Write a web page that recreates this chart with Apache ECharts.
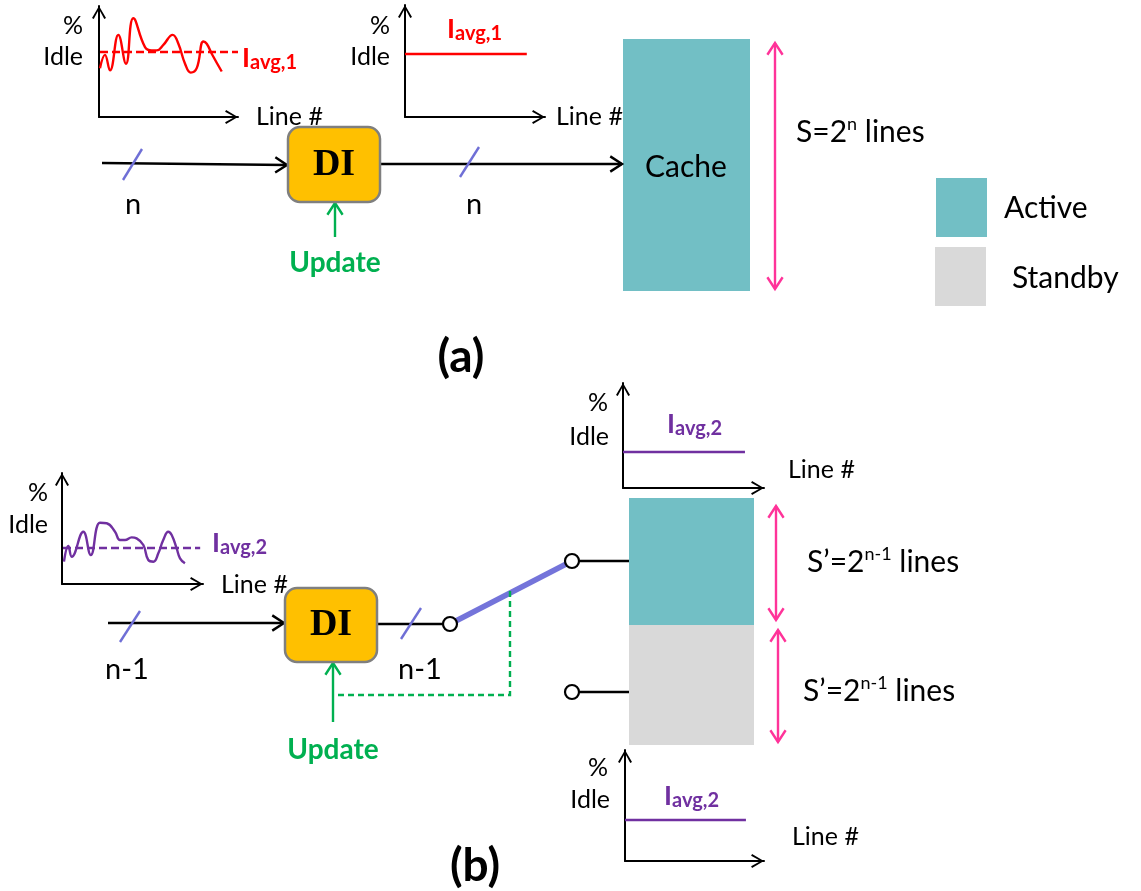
<!DOCTYPE html>
<html>
<head>
<meta charset="utf-8">
<script src="https://cdn.jsdelivr.net/npm/echarts@6/dist/echarts.min.js"></script>
<style>
  html, body { margin: 0; padding: 0; background: #fff; }
  #chart { width: 1141px; height: 891px; }
</style>
</head>
<body>
<div id="chart"></div>
<script>
// ---------- idle profiles: x = cache line index (0-100), y = % idle (0-100) ----------
const idleFullCache = [[0.7,44],[4.3,56],[7.9,42],[13.9,74],[19.4,48],[24.7,89],[33.1,63],[37.9,60],[41.5,60],[46.3,65],[53.0,74],[57.1,66],[61.9,48],[66.0,40],[70.3,44],[75.1,68],[77.5,66],[81.1,57],[88.3,41]];
const avgIdleFull = 58.6;       // I_avg,1 over the whole trace
const avgIdleCache = 56.3;      // I_avg,1 seen by the cache after DI
const idleHalfCache = [[1.4,20.1],[4.5,34.2],[6.9,24.6],[15.1,47.1],[20.4,26.1],[26.9,55.2],[31.7,54.7],[37.6,47.1],[41.1,39.6],[44.7,39.6],[49.4,42.0],[52.9,41.1],[57.7,35.1],[61.2,21.6],[64.8,20.1],[68.3,27.6],[71.8,39.6],[75.4,47.1],[77.8,44.1],[81.3,32.1],[83.7,23.1],[87.2,18.6]];
const avgIdleHalf = 32.4;       // I_avg,2 over the trace
const avgIdleActive = 34.3;     // I_avg,2 in the active half
const avgIdleStandby = 36.9;    // I_avg,2 in the standby half
const avgSpan = [[0.7, 100], [0, 87], [0.7, 98], [0, 86.5], [0, 87]];

// ---------- block diagram geometry (page units, y grows downward) ----------
// [x0, y0, x1, y1, kind]  kind 0 = active, 1 = standby
const blocks = [
  [623, 39, 750, 291, 0],
  [936, 178, 987, 237, 0],
  [935, 247, 986, 306, 1],
  [629, 498, 754, 625, 0],
  [629, 625, 754, 745, 1]
];
// DI units [x0, y0, x1, y1]
const diUnits = [[288, 127, 380, 202], [285, 588, 377, 662]];
// [style, arrowheads, x1, y1, x2, y2, ...]
const wires = [
  ['black', 1, 102, 163, 287, 165],
  ['black', 1, 380, 164, 622, 164],
  ['green', 1, 335, 237, 335, 203],
  ['pink', 2, 775, 43, 775, 289],
  ['slash', 0, 123, 180, 142, 149],
  ['slash', 0, 460, 177, 479, 147],
  ['black', 1, 108, 623, 284, 623],
  ['black', 0, 377, 624, 443, 624],
  ['switch', 0, 450, 624, 572, 561],
  ['black', 0, 579, 561, 629, 561],
  ['black', 0, 579, 692, 629, 692],
  ['greenDash', 0, 510, 591, 510, 695, 333, 695],
  ['green', 1, 333, 722, 333, 663],
  ['pink', 2, 776, 506, 776, 620],
  ['pink', 2, 778, 630, 778, 742],
  ['slash', 0, 120, 642, 140, 611],
  ['slash', 0, 401, 639, 421, 608]
];
// switch contacts
const contacts = [[450, 624], [572, 561], [572, 692]];
// [x, y, text, style, align]
const labels = [
  [83, 26, '%', 'axis', 'right'],
  [83, 57, 'Idle', 'axis', 'right'],
  [256, 117, 'Line #', 'axis', 'left'],
  [242, 58, '{i|I}{s|avg,1}', 'avgRed', 'left'],
  [390, 26, '%', 'axis', 'right'],
  [390, 57, 'Idle', 'axis', 'right'],
  [556, 117, 'Line #', 'axis', 'left'],
  [447, 29, '{i|I}{s|avg,1}', 'avgRed', 'left'],
  [334, 165, 'DI', 'di', 'center'],
  [133, 205, 'n', 'tag', 'center'],
  [474, 205, 'n', 'tag', 'center'],
  [335, 263, 'Update', 'update', 'center'],
  [686, 167, 'Cache', 'big', 'center'],
  [796, 132, '{m|S=2}{p|n}{m| lines}', 'sup', 'left'],
  [1004, 208, 'Active', 'big', 'left'],
  [1012, 278, 'Standby', 'big', 'left'],
  [461, 357, '(a)', 'panel', 'center'],
  [608, 403, '%', 'axis', 'right'],
  [609, 437, 'Idle', 'axis', 'right'],
  [788, 470, 'Line #', 'axis', 'left'],
  [667, 424, '{i|I}{s|avg,2}', 'avgPurple', 'left'],
  [48, 493, '%', 'axis', 'right'],
  [48, 525, 'Idle', 'axis', 'right'],
  [221, 585, 'Line #', 'axis', 'left'],
  [212, 543, '{i|I}{s|avg,2}', 'avgPurple', 'left'],
  [331, 625, 'DI', 'di', 'center'],
  [127, 670, 'n-1', 'tag', 'center'],
  [420, 670, 'n-1', 'tag', 'center'],
  [333, 750, 'Update', 'update', 'center'],
  [807, 562, '{m|S\u2019=2}{p|n-1}{m| lines}', 'sup', 'left'],
  [803, 691, '{m|S\u2019=2}{p|n-1}{m| lines}', 'sup', 'left'],
  [608, 768, '%', 'axis', 'right'],
  [610, 800, 'Idle', 'axis', 'right'],
  [792, 837, 'Line #', 'axis', 'left'],
  [664, 796, '{i|I}{s|avg,2}', 'avgPurple', 'left'],
  [475, 866, '(b)', 'panel', 'center']
];

// ---------- styling ----------
const F = 'Lato, "Noto Sans", sans-serif';
const RED = '#FF0000', PURPLE = '#7030A0', GREEN = '#00B050', PINK = '#FF3399';
const TEAL = '#72BFC5', GREY = '#D9D9D9', ORANGE = '#FFC000';
const blockColors = [TEAL, GREY];
const wireStyles = {
  black: { color: '#000', width: 2.4 },
  green: { color: GREEN, width: 2.4 },
  pink: { color: PINK, width: 2.4 },
  slash: { color: '#6F6FD6', width: 2.4 },
  switch: { color: '#7474DA', width: 5.5 },
  greenDash: { color: GREEN, width: 2.4, dash: [6, 4] }
};
function avgRich(color) {
  return {
    i: { fontSize: 27, fontWeight: 'bold', fontFamily: F, fill: color, lineHeight: 30 },
    s: { fontSize: 20, fontWeight: 'bold', fontFamily: F, fill: color, lineHeight: 20, verticalAlign: 'bottom' }
  };
}
const textStyles = {
  axis: { fontSize: 25, fontFamily: F, fill: '#000' },
  tag: { fontSize: 29, fontFamily: F, fill: '#000' },
  big: { fontSize: 30, fontFamily: F, fill: '#000' },
  update: { fontSize: 28, fontFamily: F, fontWeight: 'bold', fill: GREEN },
  panel: { fontSize: 46, fontFamily: F, fontWeight: 'bold', fill: '#000' },
  di: { fontSize: 38, fontFamily: '"Liberation Serif", "DejaVu Serif", serif', fontWeight: 'bold', fill: '#000' },
  avgRed: { fontSize: 27, fontFamily: F, fill: RED, rich: avgRich(RED) },
  avgPurple: { fontSize: 27, fontFamily: F, fill: PURPLE, rich: avgRich(PURPLE) },
  sup: {
    fontSize: 30, fontFamily: F, fill: '#000',
    rich: {
      m: { fontSize: 30, fontFamily: F, fill: '#000', lineHeight: 34 },
      p: { fontSize: 18, fontFamily: F, fill: '#000', lineHeight: 20, verticalAlign: 'top' }
    }
  }
};

// small idle-profile panels: [left, top, width, height]
const miniFrames = [
  [99, 6, 139, 111],
  [405, 5, 140, 112],
  [62, 473, 141, 111],
  [623, 383, 141, 105],
  [625, 750, 139, 111]
];
const ARROW = 'path://M6.5,0 L13,11 L11.4,11.9 L6.5,3 L1.6,11.9 L0,11 Z';

function miniAxis(gridIndex, pos) {
  return {
    gridIndex, type: 'value', min: 0, max: 100, position: pos,
    axisLine: {
      show: true, onZero: false,
      symbol: ['none', ARROW], symbolSize: [14, 13], symbolOffset: [0, -6.5],
      lineStyle: { color: '#000', width: 2 }
    },
    axisTick: { show: false }, axisLabel: { show: false }, splitLine: { show: false }
  };
}

// ---------- renderers for the diagram layer ----------
function chevron(tip, from, st) {
  const dx = tip[0] - from[0], dy = tip[1] - from[1];
  const d = Math.hypot(dx, dy) || 1;
  const bx = -dx / d, by = -dy / d;
  const len = 14, ang = 33 * Math.PI / 180;
  const c = Math.cos(ang), s = Math.sin(ang);
  const a1 = [tip[0] + len * (bx * c - by * s), tip[1] + len * (bx * s + by * c)];
  const a2 = [tip[0] + len * (bx * c + by * s), tip[1] + len * (-bx * s + by * c)];
  return { type: 'polyline', shape: { points: [a1, tip, a2] },
    style: { stroke: st.color, lineWidth: st.width, fill: null, lineJoin: 'miter' } };
}
function renderWire(params, api) {
  const w = wires[params.dataIndex];
  const st = wireStyles[w[0]];
  const pts = [];
  for (let k = 2; k < w.length; k += 2) pts.push(api.coord([w[k], w[k + 1]]));
  const children = [{ type: 'polyline', shape: { points: pts },
    style: { stroke: st.color, lineWidth: st.width, lineDash: st.dash || null, fill: null } }];
  if (w[1] >= 1) children.push(chevron(pts[pts.length - 1], pts[pts.length - 2], st));
  if (w[1] >= 2) children.push(chevron(pts[0], pts[1], st));
  return { type: 'group', children };
}
function rectOf(api) {
  const p0 = api.coord([api.value(0), api.value(1)]);
  const p1 = api.coord([api.value(2), api.value(3)]);
  return { x: Math.min(p0[0], p1[0]), y: Math.min(p0[1], p1[1]),
    width: Math.abs(p1[0] - p0[0]), height: Math.abs(p1[1] - p0[1]) };
}
function renderBlock(params, api) {
  return { type: 'rect', shape: rectOf(api), style: { fill: blockColors[api.value(4)] } };
}
function renderDI(params, api) {
  const r = rectOf(api);
  r.r = 12;
  return { type: 'rect', shape: r, style: { fill: ORANGE, stroke: '#7F7F7F', lineWidth: 2.5 } };
}
function renderContact(params, api) {
  const p = api.coord([api.value(0), api.value(1)]);
  return { type: 'circle', shape: { cx: p[0], cy: p[1], r: 7 },
    style: { fill: '#fff', stroke: '#000', lineWidth: 2.2 } };
}
function renderLabel(params, api) {
  const l = labels[params.dataIndex];
  const p = api.coord([l[0], l[1]]);
  const style = JSON.parse(JSON.stringify(textStyles[l[3]]));
  style.text = l[2];
  style.align = l[4];
  style.verticalAlign = 'middle';
  return { type: 'text', x: p[0], y: p[1], style };
}

// ---------- option ----------
const grids = [{ left: 0, top: 0, width: 1141, height: 891 }]
  .concat(miniFrames.map(f => ({ left: f[0], top: f[1], width: f[2], height: f[3] })));
const xAxes = [{ gridIndex: 0, type: 'value', min: 0, max: 1141, show: false }]
  .concat(miniFrames.map((f, i) => miniAxis(i + 1, 'bottom')));
const yAxes = [{ gridIndex: 0, type: 'value', min: 0, max: 891, inverse: true, show: false }]
  .concat(miniFrames.map((f, i) => miniAxis(i + 1, 'left')));

function trace(panel, data, color) {
  return { type: 'line', xAxisIndex: panel, yAxisIndex: panel, data, smooth: 0.45,
    symbol: 'none', silent: true, z: 3, lineStyle: { color, width: 2.4 } };
}
function level(panel, value, color, dashed) {
  const span = avgSpan[panel - 1];
  return { type: 'line', xAxisIndex: panel, yAxisIndex: panel,
    data: [[span[0], value], [span[1], value]], symbol: 'none', silent: true, z: 3,
    lineStyle: { color, width: 2.4, type: dashed ? [8, 4] : 'solid' } };
}

const option = {
  animation: false,
  backgroundColor: '#ffffff',
  grid: grids,
  xAxis: xAxes,
  yAxis: yAxes,
  series: [
    { type: 'custom', xAxisIndex: 0, yAxisIndex: 0, z: 1, silent: true,
      encode: { x: [0, 2], y: [1, 3] }, data: blocks, renderItem: renderBlock },
    { type: 'custom', xAxisIndex: 0, yAxisIndex: 0, z: 2, silent: true,
      data: wires.map(w => [w[2], w[3]]), renderItem: renderWire },
    { type: 'custom', xAxisIndex: 0, yAxisIndex: 0, z: 3, silent: true,
      encode: { x: [0, 2], y: [1, 3] }, data: diUnits, renderItem: renderDI },
    { type: 'custom', xAxisIndex: 0, yAxisIndex: 0, z: 4, silent: true,
      data: contacts, renderItem: renderContact },
    { type: 'custom', xAxisIndex: 0, yAxisIndex: 0, z: 5, silent: true,
      data: labels.map(l => [l[0], l[1]]), renderItem: renderLabel },
    trace(1, idleFullCache, RED),
    level(1, avgIdleFull, RED, true),
    level(2, avgIdleCache, RED, false),
    trace(3, idleHalfCache, PURPLE),
    level(3, avgIdleHalf, PURPLE, true),
    level(4, avgIdleActive, PURPLE, false),
    level(5, avgIdleStandby, PURPLE, false)
  ]
};

const chart = echarts.init(document.getElementById('chart'), null, { renderer: 'canvas' });
chart.setOption(option);
</script>
</body>
</html>
